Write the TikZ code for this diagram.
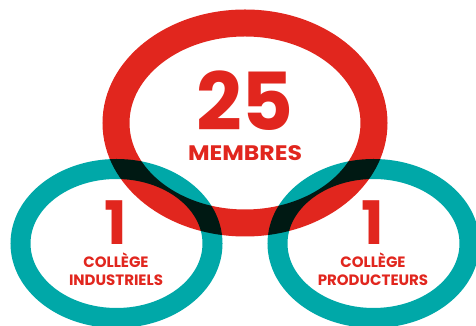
\documentclass[tikz,border=0pt]{standalone}
\usepackage{fontspec}
\setmainfont{Poppins}
\newfontfamily\widefont{Poppins}[FakeStretch=1.12]
\usepackage{tikz}
\usetikzlibrary{positioning}
\definecolor{Mcolor}{RGB}{225,38,30}
\definecolor{Ccolor}{RGB}{0,168,168}

\newcommand{\tightlines}{\baselineskip=0pt\relax\lineskip=0pt\relax\lineskiplimit=0pt\relax}
\newcommand{\bignum}[2]{{\fontsize{#1}{#1}\selectfont #2}}
\newcommand{\smalltxt}[2]{{\fontsize{#1}{#1}\selectfont #2}}

\begin{document}
\begin{tikzpicture}[x=1pt,y=1pt,
  group/.style={inner sep=0pt,anchor=north,align=center,text=Mcolor,
    font=\bfseries\tightlines},
  ring/.style={line width=#1}]
\useasboundingbox (0,0) rectangle (476,326);
\clip (0,0) rectangle (476,326);
\coordinate (cM) at (245,203);
\coordinate (cI) at (116.5,82.5);
\coordinate (cP) at (373.5,82.5);
% rings
\draw[ring=27pt,draw=Mcolor] (cM) ellipse [x radius=129,y radius=100];
\begin{scope}[blend mode=multiply]
\foreach \c in {cI,cP}
  \draw[ring=20pt,draw=Ccolor] (\c) ellipse [x radius=96,y radius=74.5];
\end{scope}
% texts
\node[group] (membres) at (245,255)
  {\bignum{80}{25}\\[15pt]\smalltxt{21}{\widefont MEMBRES}};
\node[group] (industriels) at (116,125)
  {\bignum{60}{1}\\[8pt]\smalltxt{15}{COLLÈGE}\\[7pt]\smalltxt{15}{INDUSTRIELS}};
\node[group] (producteurs) at (373,125)
  {\bignum{60}{1}\\[8pt]\smalltxt{15}{COLLÈGE}\\[7pt]\smalltxt{15}{PRODUCTEURS}};
\end{tikzpicture}
\end{document}
